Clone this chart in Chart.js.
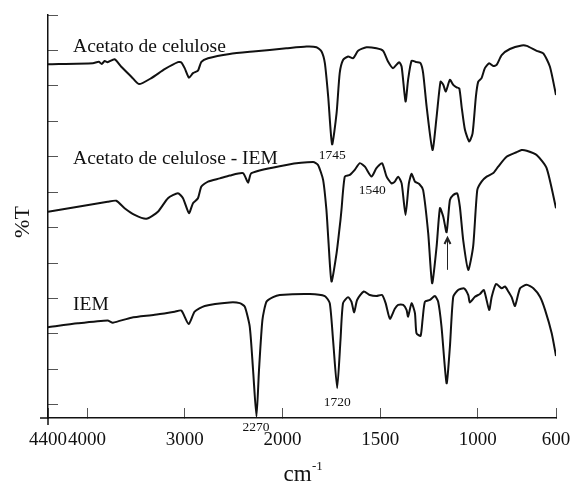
<!DOCTYPE html>
<html>
<head>
<meta charset="utf-8">
<script src="https://cdn.jsdelivr.net/npm/chart.js@4.4.1/dist/chart.umd.min.js"></script>
<style>
  html, body { margin: 0; padding: 0; background: #fff; }
  #wrap { width: 571px; height: 484px; }
</style>
</head>
<body>
<div id="wrap"><canvas id="ftir" width="571" height="484"></canvas></div>
<script>
/* =========================
   Data
   wavenumber in cm-1, %T in offset units
========================= */
const caWave = [4400, 3940, 3880, 3850, 3820, 3790, 3718, 3650, 3547, 3469, 3342, 3206, 3070, 3035, 3001, 2957, 2916, 2865, 2830, 2762, 2540, 2301,
  1980, 1877, 1826, 1800, 1783, 1766, 1746, 1723, 1707, 1690, 1664, 1638, 1613, 1570, 1519, 1485, 1459, 1434, 1403, 1390, 1370, 1357, 1339,
  1314, 1293, 1280, 1262, 1232, 1211, 1191, 1177, 1164, 1143, 1126, 1109, 1095, 1083, 1066, 1044, 1027, 1010, 998, 981, 964, 942, 921, 904,
  878, 836, 776, 750, 699, 665, 631, 600];
const caT = [9.61, 9.64, 9.68, 9.62, 9.70, 9.67, 9.75, 9.54, 9.26, 9.05, 9.22, 9.47, 9.67, 9.66, 9.50, 9.23, 9.36, 9.43, 9.68, 9.78, 9.90, 9.97,
  10.06, 10.11, 10.09, 9.97, 9.64, 8.70, 7.35, 8.23, 9.36, 9.73, 9.83, 9.78, 9.99, 10.09, 10.06, 9.99, 9.68, 9.50, 9.67, 9.54, 8.56, 9.17, 9.71,
  9.67, 9.64, 9.36, 8.41, 7.19, 8.13, 9.12, 9.03, 8.84, 9.17, 9.03, 8.96, 8.93, 8.41, 7.76, 7.43, 7.66, 8.70, 9.12, 9.22, 9.50, 9.64, 9.56, 9.59,
  9.87, 10.04, 10.14, 10.13, 9.99, 9.92, 9.54, 8.74];

const caIemWave = [4400, 4094, 3790, 3701, 3616, 3513, 3393, 3275, 3172, 3070, 3018, 2957, 2916, 2865, 2830, 2762, 2642, 2540, 2404, 2352, 2318,
  1980, 1843, 1818, 1792, 1775, 1765, 1749, 1723, 1703, 1698, 1681, 1655, 1630, 1604, 1578, 1544, 1519, 1490, 1467, 1442, 1425, 1408, 1390,
  1370, 1353, 1339, 1322, 1300, 1280, 1254, 1234, 1211, 1194, 1177, 1160, 1143, 1126, 1106, 1092, 1075, 1049, 1024, 1003, 981, 955, 921, 896,
  853, 801, 776, 750, 699, 648, 600];
const caIemT = [5.45, 5.59, 5.73, 5.76, 5.55, 5.36, 5.25, 5.45, 5.83, 5.97, 5.83, 5.41, 5.69, 5.83, 6.16, 6.30, 6.39, 6.47, 6.54, 6.27, 6.54,
  6.77, 6.85, 6.77, 6.35, 5.50, 4.65, 3.48, 4.28, 5.22, 5.50, 6.44, 6.49, 6.63, 6.82, 6.72, 6.44, 6.68, 6.82, 6.44, 6.25, 6.30, 6.44, 6.25,
  5.36, 6.25, 6.52, 6.30, 6.23, 6.06, 4.84, 3.43, 4.47, 5.55, 5.31, 4.87, 5.78, 5.92, 5.97, 5.59, 4.65, 3.81, 4.47, 6.06, 6.30, 6.44, 6.54, 6.72,
  7.00, 7.13, 7.19, 7.17, 7.05, 6.68, 5.55];

const iemWave = [4400, 4094, 3790, 3736, 3547, 3308, 3103, 3035, 2960, 2899, 2796, 2540, 2437, 2386, 2335, 2301, 2266, 2240, 2205, 2164, 2096,
  2028, 1860, 1783, 1758, 1741, 1720, 1703, 1690, 1664, 1647, 1633, 1618, 1584, 1553, 1519, 1490, 1472, 1450, 1425, 1408, 1382, 1365, 1357,
  1339, 1322, 1314, 1293, 1283, 1271, 1245, 1220, 1203, 1186, 1160, 1143, 1126, 1101, 1071, 1049, 1041, 1015, 989, 969, 942, 929, 907, 878,
  861, 844, 827, 810, 784, 750, 716, 682, 656, 622, 600];
const iemT = [2.19, 2.30, 2.38, 2.32, 2.46, 2.54, 2.63, 2.66, 2.28, 2.63, 2.79, 2.89, 2.87, 2.77, 2.21, 0.99, -0.33, 0.99, 2.40, 2.91, 3.04,
  3.10, 3.13, 3.07, 2.87, 1.83, 0.47, 1.83, 2.87, 3.04, 2.91, 2.61, 2.96, 3.20, 3.10, 3.07, 3.10, 2.87, 2.43, 2.71, 2.82, 2.82, 2.68, 2.49,
  2.87, 2.59, 2.02, 1.95, 2.40, 2.91, 2.96, 3.07, 2.91, 2.21, 0.61, 1.64, 3.05, 3.24, 3.29, 3.10, 2.89, 3.05, 3.13, 3.24, 2.68, 3.05, 3.41, 3.29,
  3.34, 3.20, 3.04, 2.79, 3.29, 3.39, 3.29, 3.05, 2.68, 2.02, 1.38];

const xTickValues = [4400, 4000, 3000, 2000, 1500, 1000, 600];
const yTickValues = [0, 1, 2, 3, 4, 5, 6, 7, 8, 9, 10, 11];

// curve names: text, left edge (cm-1), baseline (%T units)
const seriesNames = ["Acetato de celulose", "Acetato de celulose - IEM", "IEM"];
const nameWave = [4143, 4143, 4143];
const nameBase = [9.97, 6.80, 2.67];

// peak labels sit centred on their own wavenumber
const peakLabels = [1745, 1540, 2270, 1720];
const peakBase = [6.93, 5.95, -0.73, -0.03];

// arrow under the 1160 band of the IEM-modified acetate
const arrowWave = 1160;
const arrowFrom = 3.81;
const arrowTo = 4.71;

/* broken axis: above 2000 cm-1 the scale is compressed 2:1 */
function toAxis(w) { return w > 2000 ? 2000 + (w - 2000) / 2 : w; }
function fromAxis(u) { return u > 2000 ? 2000 + (u - 2000) * 2 : u; }

function points(waves, vals) {
  return waves.map((w, i) => ({ x: toAxis(w), y: vals[i] }));
}

/* =========================
   Text, arrow and axis titles
========================= */
const SERIF = "'Liberation Serif', 'Times New Roman', serif";

const annotate = {
  id: "annotate",
  afterDraw(chart) {
    const { ctx, chartArea } = chart;
    const x = chart.scales.x;
    const y = chart.scales.y;
    ctx.save();

    // axes run a little past their corner, as in the original plot
    ctx.strokeStyle = "#111";
    ctx.lineWidth = 1.5;
    ctx.beginPath();
    ctx.moveTo(chartArea.left - 8, chartArea.bottom);
    ctx.lineTo(chartArea.left, chartArea.bottom);
    ctx.moveTo(chartArea.left, chartArea.bottom);
    ctx.lineTo(chartArea.left, chartArea.bottom + 7);
    ctx.stroke();

    ctx.fillStyle = "#111";
    ctx.textBaseline = "alphabetic";

    ctx.font = `19.5px ${SERIF}`;
    ctx.textAlign = "left";
    seriesNames.forEach((t, i) => {
      ctx.fillText(t, x.getPixelForValue(toAxis(nameWave[i])), y.getPixelForValue(nameBase[i]));
    });

    ctx.font = `13.5px ${SERIF}`;
    ctx.textAlign = "center";
    peakLabels.forEach((p, i) => {
      ctx.fillText(String(p), x.getPixelForValue(toAxis(p)), y.getPixelForValue(peakBase[i]));
    });

    // arrow
    const ax = Math.round(x.getPixelForValue(toAxis(arrowWave))) + 0.5;
    const y0 = y.getPixelForValue(arrowFrom);
    const y1 = y.getPixelForValue(arrowTo);
    ctx.strokeStyle = "#222";
    ctx.lineWidth = 1;
    ctx.beginPath();
    ctx.moveTo(ax, y0);
    ctx.lineTo(ax, y1 + 1);
    ctx.stroke();
    ctx.lineWidth = 2;
    ctx.beginPath();
    ctx.moveTo(ax - 3, y1 + 6);
    ctx.lineTo(ax, y1);
    ctx.lineTo(ax + 3, y1 + 6);
    ctx.stroke();

    // x title with superscript
    ctx.textAlign = "left";
    ctx.font = `23px ${SERIF}`;
    ctx.fillText("cm", 283.5, 481);
    ctx.font = `13px ${SERIF}`;
    ctx.fillText("-1", 312, 470);

    // y title
    ctx.translate(29, 222);
    ctx.rotate(-Math.PI / 2);
    ctx.font = `22px ${SERIF}`;
    ctx.textAlign = "center";
    ctx.fillText("%T", 0, 0);
    ctx.restore();
  }
};

/* =========================
   Chart
========================= */
const line = (label, data) => ({
  label, data,
  borderColor: "#111",
  borderWidth: 2,
  pointRadius: 0,
  tension: 0.2,
  fill: false,
});

new Chart(document.getElementById("ftir"), {
  type: "line",
  data: {
    datasets: [
      line(seriesNames[0], points(caWave, caT)),
      line(seriesNames[1], points(caIemWave, caIemT)),
      line(seriesNames[2], points(iemWave, iemT)),
    ],
  },
  options: {
    responsive: false,
    animation: false,
    layout: { padding: { top: 15, right: 15, left: 0, bottom: 0 } },
    plugins: { legend: { display: false }, tooltip: { enabled: false } },
    scales: {
      x: {
        type: "linear",
        reverse: true,
        min: 600,
        max: toAxis(4400),
        afterBuildTicks: (s) => { s.ticks = xTickValues.map(w => ({ value: toAxis(w) })); },
        afterFit: (s) => { s.height = 66; s.paddingLeft = 0; s.paddingRight = 0; },
        grid: { drawOnChartArea: false, tickLength: -10, color: "#555", lineWidth: 1 },
        border: { color: "#111", width: 1.5 },
        ticks: {
          autoSkip: false,
          maxRotation: 0,
          padding: 21,
          color: "#111",
          font: { family: SERIF, size: 19 },
          callback: (v) => String(Math.round(fromAxis(v))),
        },
      },
      y: {
        min: -0.37,
        max: 11,
        afterBuildTicks: (s) => { s.ticks = yTickValues.map(v => ({ value: v })); },
        afterFit: (s) => { s.width = 48; },
        grid: { drawOnChartArea: false, tickLength: -10, color: "#555", lineWidth: 1 },
        border: { color: "#111", width: 1.5 },
        ticks: { display: false },
      },
    },
  },
  plugins: [annotate],
});
</script>
</body>
</html>
